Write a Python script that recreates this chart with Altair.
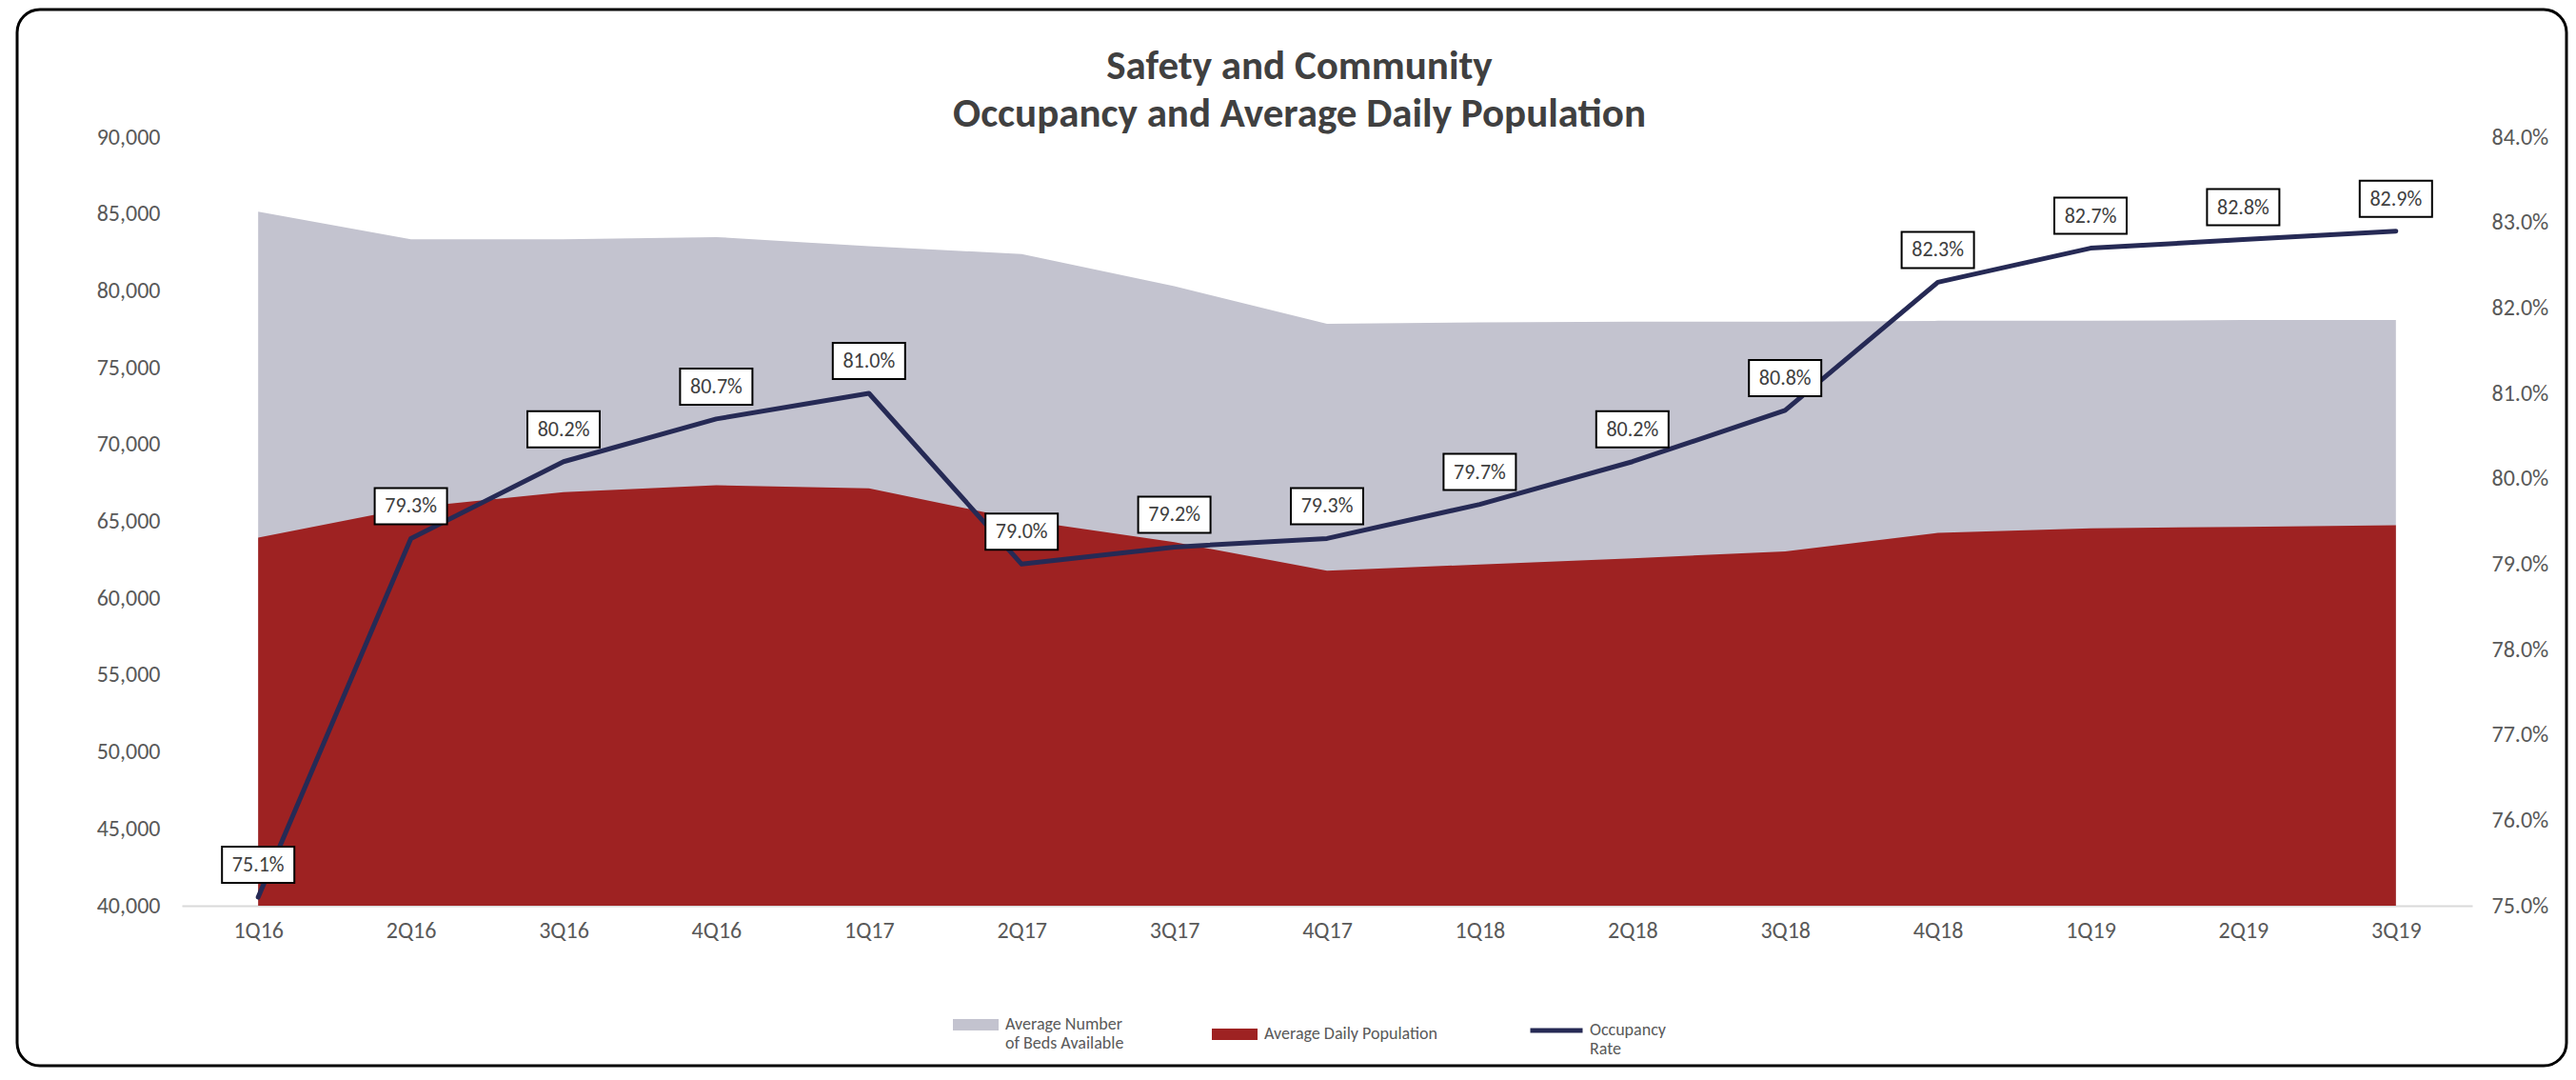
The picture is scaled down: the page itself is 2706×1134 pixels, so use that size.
import altair as alt
import pandas as pd

# ---------------- data ----------------
quarters = ["1Q16", "2Q16", "3Q16", "4Q16", "1Q17", "2Q17", "3Q17", "4Q17",
            "1Q18", "2Q18", "3Q18", "4Q18", "1Q19", "2Q19", "3Q19"]
beds_available = [85150, 83350, 83350, 83500, 82900, 82400, 80300, 77850,
                  77950, 78000, 78000, 78050, 78050, 78100, 78100]
daily_population = [63950, 65900, 66900, 67350, 67150, 65100, 63650, 61800,
                     62200, 62600, 63050, 64250, 64550, 64650, 64750]
occupancy_rate = [0.751, 0.793, 0.802, 0.807, 0.810, 0.790, 0.792, 0.793,
                  0.797, 0.802, 0.808, 0.823, 0.827, 0.828, 0.829]

area_series = ["Average Number of Beds Available", "Average Daily  Population"]
area_colors = ["#c3c3cf", "#9e2222"]
rate_series = "Occupancy Rate"
rate_color = "#262a55"

left_ticks = [40000, 45000, 50000, 55000, 60000, 65000, 70000, 75000, 80000, 85000, 90000]
right_ticks = [0.75, 0.76, 0.77, 0.78, 0.79, 0.80, 0.81, 0.82, 0.83, 0.84]
title_lines = ["Safety and Community", "Occupancy and Average Daily Population"]

df_area = pd.DataFrame({
    "quarter": quarters * 2,
    "series": [area_series[0]] * len(quarters) + [area_series[1]] * len(quarters),
    "value": beds_available + daily_population,
})
df_rate = pd.DataFrame({
    "quarter": quarters,
    "rate": occupancy_rate,
    "series": [rate_series] * len(quarters),
})

FONT = "Carlito, Lato, sans-serif"
LABEL_COLOR = "#595959"
AXIS_FS = 24

# ---------------- encodings ----------------
x_enc = alt.X(
    "quarter:N", sort=quarters,
    scale=alt.Scale(type="point", padding=0.5),
    axis=alt.Axis(title=None, labelAngle=0, grid=False, ticks=False, tickSize=0,
                  domainColor="#d9d9d9", domainWidth=2, labelPadding=14,
                  labelFont=FONT, labelFontSize=AXIS_FS, labelColor=LABEL_COLOR),
)

y_left = alt.Y(
    "value:Q",
    scale=alt.Scale(domain=[40000, 90000], nice=False, zero=False),
    axis=alt.Axis(orient="left", values=left_ticks, format=",.0f", title=None, grid=False,
                  domain=False, ticks=False, tickSize=0, labelPadding=23,
                  labelFont=FONT, labelFontSize=AXIS_FS, labelColor=LABEL_COLOR),
)

y_right = alt.Y(
    "rate:Q",
    scale=alt.Scale(domain=[0.75, 0.84], nice=False, zero=False),
    axis=alt.Axis(orient="right", values=right_ticks, format=".1%", title=None, grid=False,
                  domain=False, ticks=False, tickSize=0, labelPadding=20,
                  labelFont=FONT, labelFontSize=AXIS_FS, labelColor=LABEL_COLOR),
)

area_legend = alt.Legend(
    title=None, orient="none", legendX=810, legendY=908, direction="horizontal",
    padding=0, symbolType="M-1,-0.25H1V0.25H-1Z", symbolSize=2304,
    symbolStrokeWidth=0, symbolOpacity=1, labelFont=FONT, labelFontSize=18,
    labelColor=LABEL_COLOR, labelOffset=7, labelLimit=400, columnPadding=92,
    labelBaseline="middle",
    labelExpr="datum.label == 'Average Number of Beds Available' ? ['Average Number', 'of Beds Available'] : datum.label",
)
color_enc = alt.Color("series:N", scale=alt.Scale(domain=area_series, range=area_colors),
                      legend=area_legend)

line_legend = alt.Legend(
    title=None, orient="none", legendX=1414, legendY=908, direction="horizontal",
    padding=0, symbolType="stroke", symbolSize=3025, symbolStrokeWidth=5,
    labelFont=FONT, labelFontSize=18, labelColor=LABEL_COLOR, labelOffset=5,
    labelLimit=400, labelBaseline="middle",
    labelExpr="['Occupancy', 'Rate']",
)
stroke_enc = alt.Stroke("series:N", scale=alt.Scale(domain=[rate_series], range=[rate_color]),
                        legend=line_legend)

# ---------------- layers ----------------
gray = alt.Chart(df_area).transform_filter(
    alt.datum.series == area_series[0]
).mark_area(opacity=1, clip=True).encode(
    x=x_enc, y=y_left, y2=alt.datum(40000), color=color_enc
)

red = alt.Chart(df_area).transform_filter(
    alt.datum.series == area_series[1]
).mark_area(opacity=1, clip=True).encode(
    x=x_enc, y=y_left, y2=alt.datum(40000), color=color_enc
)

line = alt.Chart(df_rate).mark_line(
    strokeWidth=5, strokeCap="round", strokeJoin="round"
).encode(x=x_enc, y=y_right, stroke=stroke_enc)

boxes = alt.Chart(df_rate).mark_point(
    shape="M-1,-0.5H1V0.5H-1Z", size=5776, filled=True, fill="white",
    stroke="black", strokeWidth=2, opacity=1, yOffset=-34,
).encode(x=x_enc, y=y_right)

labels = alt.Chart(df_rate).mark_text(
    dy=-34, font=FONT, fontSize=22, color="#404040", baseline="middle", align="center"
).encode(x=x_enc, y=y_right, text=alt.Text("rate:Q", format=".1%"))

border = alt.Chart(pd.DataFrame({"k": [0]})).mark_rect(
    filled=False, stroke="black", strokeWidth=3, cornerRadius=24
).encode(x=alt.value(-173), x2=alt.value(2505), y=alt.value(-134), y2=alt.value(975))

left = alt.layer(gray, red)
right = alt.layer(line, boxes, labels)

chart = alt.layer(border, left, right).resolve_scale(
    y="independent"
).properties(
    width=2406, height=807,
    autosize=alt.AutoSizeParams(type="none"),
    padding={"left": 183, "top": 136, "right": 101, "bottom": 170},
    background="white",
    title=alt.TitleParams(
        text=title_lines, font=FONT, fontSize=43, fontWeight="bold", color="#404040",
        anchor="middle", frame="group", dx=-29, dy=133, offset=0, lineHeight=50,
    ),
).configure_view(strokeWidth=0)

chart.save("out.html", embed_options={"renderer": "svg", "actions": False})
